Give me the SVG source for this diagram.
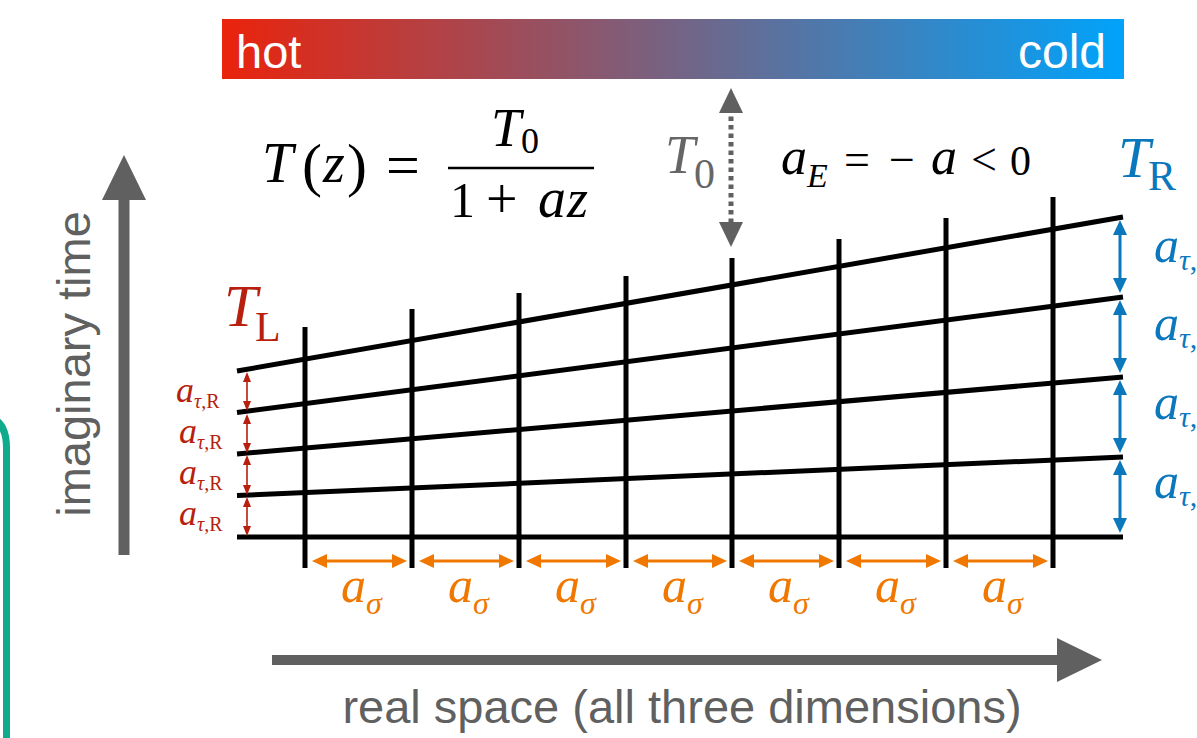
<svg xmlns="http://www.w3.org/2000/svg" width="1197" height="738" viewBox="0 0 1197 738">
<style>
.ser{font-family:"Liberation Serif","Times New Roman",serif}
.it{font-style:italic}
.sans{font-family:"Liberation Sans",Arial,sans-serif}
.grid{stroke:#000;stroke-width:5;fill:none}
.red{fill:#B71F0E}
.blue{fill:#0B77BD}
.orange{fill:#F07800}
.grey{fill:#666666}
.ra{stroke:#B71F0E;stroke-width:1.6;marker-start:url(#mr);marker-end:url(#mr)}
.ba{stroke:#0B77BD;stroke-width:3;marker-start:url(#mb);marker-end:url(#mb)}
.oa{stroke:#F07800;stroke-width:3;marker-start:url(#mo);marker-end:url(#mo)}
</style>
<defs>
<linearGradient id="heat" x1="0" y1="0" x2="1" y2="0">
<stop offset="0" stop-color="#EA230C"/>
<stop offset="1" stop-color="#00A3FB"/>
</linearGradient>
<marker id="mr" viewBox="0 0 10 8" refX="3" refY="4" markerWidth="10" markerHeight="8" markerUnits="userSpaceOnUse" orient="auto-start-reverse"><path d="M0,0 L10,4 L0,8 z" fill="#B71F0E"/></marker>
<marker id="mb" viewBox="0 0 15 14" refX="4" refY="7" markerWidth="15" markerHeight="14" markerUnits="userSpaceOnUse" orient="auto-start-reverse"><path d="M0,0 L15,7 L0,14 z" fill="#0B77BD"/></marker>
<marker id="mo" viewBox="0 0 15 14" refX="4" refY="7" markerWidth="15" markerHeight="14" markerUnits="userSpaceOnUse" orient="auto-start-reverse"><path d="M0,0 L15,7 L0,14 z" fill="#F07800"/></marker>
<marker id="mg" viewBox="0 0 25 24" refX="5" refY="12" markerWidth="25" markerHeight="24" markerUnits="userSpaceOnUse" orient="auto-start-reverse"><path d="M0,0 L25,12 L0,24 z" fill="#606060"/></marker>
</defs>
<rect width="1197" height="738" fill="#fff"/>

<!-- teal box corner -->
<path d="M-20,416 Q6.5,416 6.5,448 L6.5,740" fill="none" stroke="#10AA8C" stroke-width="7"/>

<!-- heat bar -->
<g id="heatbar">
<rect x="222" y="19" width="902" height="60" fill="url(#heat)"/>
<text class="sans" x="236" y="68" font-size="47" fill="#fff">hot</text>
<text class="sans" x="1106" y="68" font-size="48" fill="#fff" text-anchor="end">cold</text>
</g>

<!-- axes -->
<g id="axis-time">
<polygon points="124,155 146,200 129.5,200 129.5,555 118.5,555 118.5,200 102,200" fill="#606060"/>
<text class="sans" transform="translate(90,364) rotate(-90)" font-size="47" fill="#606060" text-anchor="middle">imaginary time</text>
</g>
<g id="axis-space">
<polygon points="272,655 1057,655 1057,638 1102,660 1057,682 1057,665 272,665" fill="#606060"/>
<text class="sans" x="682" y="723" font-size="47" fill="#606060" text-anchor="middle">real space (all three dimensions)</text>
</g>

<!-- equation -->
<g id="equation" class="ser" fill="#000">
<text class="it" x="262" y="182" font-size="56">T</text>
<text x="302" y="185" font-size="60">(</text>
<text class="it" x="323" y="182" font-size="56">z</text>
<text x="347" y="185" font-size="60">)</text>
<text x="386" y="185" font-size="60">=</text>
<line x1="448" y1="168" x2="594" y2="168" stroke="#000" stroke-width="2.5"/>
<text class="it" x="491" y="146" font-size="54">T</text>
<text x="521" y="153" font-size="36">0</text>
<text x="450" y="217" font-size="50">1</text>
<text x="486" y="218" font-size="56">+</text>
<text class="it" x="538" y="217" font-size="56">a</text>
<text class="it" x="567" y="217" font-size="54">z</text>
</g>

<!-- T0 label -->
<g id="t0">
<text class="ser it grey" x="665" y="173" font-size="54">T</text>
<text class="ser grey" x="694" y="188" font-size="42">0</text>
</g>

<!-- aE -->
<g id="aE" class="ser" fill="#000">
<text x="781" y="174"><tspan class="it" font-size="52">a</tspan><tspan class="it" font-size="34" dy="13">E</tspan></text>
<text x="844" y="175" font-size="46">=</text>
<text x="889" y="175" font-size="46">−</text>
<text class="it" x="931" y="174" font-size="52">a</text>
<text x="971" y="175" font-size="46">&lt;</text>
<text x="1010" y="175" font-size="42">0</text>
</g>

<g id="TR"><text class="ser it blue" x="1118" y="177" font-size="58">T</text><text class="ser blue" x="1148" y="190" font-size="42">R</text></g>
<g id="TL"><text class="ser it red" x="224" y="326" font-size="60">T</text><text class="ser red" x="255" y="341" font-size="42">L</text></g>

<!-- grid -->
<g id="grid" class="grid">
<line x1="237" y1="537" x2="1123" y2="537"/>
<line x1="237" y1="495.5" x2="1123" y2="457"/>
<line x1="237" y1="454" x2="1123" y2="377"/>
<line x1="237" y1="412.5" x2="1123" y2="297"/>
<line x1="237" y1="371" x2="1123" y2="217"/>
<line x1="305" y1="327" x2="305" y2="568"/>
<line x1="412" y1="309" x2="412" y2="568"/>
<line x1="519" y1="293" x2="519" y2="568"/>
<line x1="626" y1="276" x2="626" y2="568"/>
<line x1="732" y1="258" x2="732" y2="568"/>
<line x1="839" y1="239" x2="839" y2="568"/>
<line x1="946" y1="218" x2="946" y2="568"/>
<line x1="1053" y1="197" x2="1053" y2="568"/>
</g>

<!-- connectors / dimension arrows -->
<g id="connectors">
<line x1="731" y1="108" x2="731" y2="227" stroke="#606060" stroke-width="5" stroke-dasharray="4.5 4" marker-start="url(#mg)" marker-end="url(#mg)"/>
<line class="ra" x1="247" y1="379" x2="247" y2="404"/>
<line class="ra" x1="247" y1="421" x2="247" y2="446"/>
<line class="ra" x1="247" y1="462" x2="247" y2="488"/>
<line class="ra" x1="247" y1="504" x2="247" y2="529"/>
<line class="ba" x1="1120" y1="231" x2="1120" y2="282"/>
<line class="ba" x1="1120" y1="311" x2="1120" y2="362"/>
<line class="ba" x1="1120" y1="391" x2="1120" y2="442"/>
<line class="ba" x1="1120" y1="471" x2="1120" y2="522"/>
<line class="oa" x1="323" y1="561" x2="396" y2="561"/>
<line class="oa" x1="430" y1="561" x2="503" y2="561"/>
<line class="oa" x1="537" y1="561" x2="610" y2="561"/>
<line class="oa" x1="644" y1="561" x2="716" y2="561"/>
<line class="oa" x1="750" y1="561" x2="823" y2="561"/>
<line class="oa" x1="857" y1="561" x2="930" y2="561"/>
<line class="oa" x1="964" y1="561" x2="1037" y2="561"/>
</g>

<!-- labels -->
<g id="labels-red" class="ser red">
<text x="176" y="402"><tspan class="it" font-size="36">a</tspan><tspan font-size="20" dy="6"><tspan class="it">τ</tspan>,R</tspan></text>
<text x="179" y="443"><tspan class="it" font-size="36">a</tspan><tspan font-size="20" dy="6"><tspan class="it">τ</tspan>,R</tspan></text>
<text x="179" y="484"><tspan class="it" font-size="36">a</tspan><tspan font-size="20" dy="6"><tspan class="it">τ</tspan>,R</tspan></text>
<text x="179" y="525"><tspan class="it" font-size="36">a</tspan><tspan font-size="20" dy="6"><tspan class="it">τ</tspan>,R</tspan></text>
</g>
<g id="labels-blue" class="ser blue">
<text x="1154" y="262"><tspan class="it" font-size="50">a</tspan><tspan font-size="30" dy="8"><tspan class="it">τ</tspan>,</tspan></text>
<text x="1154" y="340"><tspan class="it" font-size="50">a</tspan><tspan font-size="30" dy="8"><tspan class="it">τ</tspan>,</tspan></text>
<text x="1154" y="419"><tspan class="it" font-size="50">a</tspan><tspan font-size="30" dy="8"><tspan class="it">τ</tspan>,</tspan></text>
<text x="1154" y="498"><tspan class="it" font-size="50">a</tspan><tspan font-size="30" dy="8"><tspan class="it">τ</tspan>,</tspan></text>
</g>
<g id="labels-orange" class="ser it orange">
<text x="341" y="602"><tspan font-size="50">a</tspan><tspan font-size="32" dy="12">σ</tspan></text>
<text x="448" y="602"><tspan font-size="50">a</tspan><tspan font-size="32" dy="12">σ</tspan></text>
<text x="555" y="602"><tspan font-size="50">a</tspan><tspan font-size="32" dy="12">σ</tspan></text>
<text x="662" y="602"><tspan font-size="50">a</tspan><tspan font-size="32" dy="12">σ</tspan></text>
<text x="768" y="602"><tspan font-size="50">a</tspan><tspan font-size="32" dy="12">σ</tspan></text>
<text x="875" y="602"><tspan font-size="50">a</tspan><tspan font-size="32" dy="12">σ</tspan></text>
<text x="982" y="602"><tspan font-size="50">a</tspan><tspan font-size="32" dy="12">σ</tspan></text>
</g>
</svg>
